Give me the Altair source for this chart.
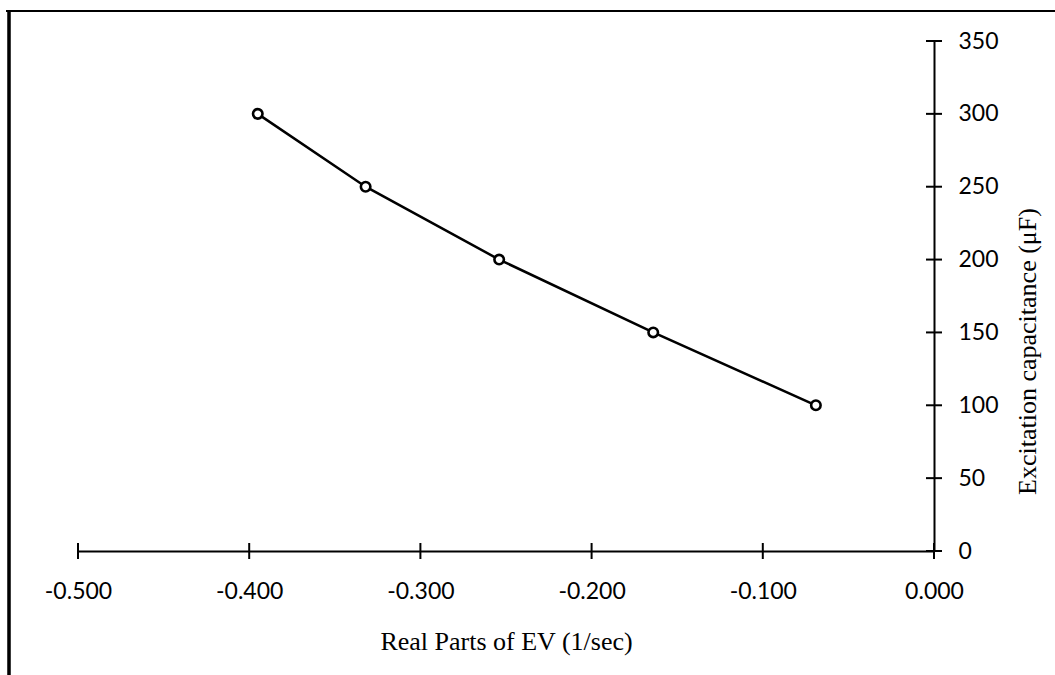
import altair as alt
import pandas as pd

# Real parts of the eigenvalue for each excitation capacitance
real_parts = [-0.395, -0.332, -0.254, -0.164, -0.069]
capacitance = [300, 250, 200, 150, 100]

x_ticks = [-0.5, -0.4, -0.3, -0.2, -0.1, 0.0]
y_ticks = [0, 50, 100, 150, 200, 250, 300, 350]

W, H = 856, 510

df = pd.DataFrame({"ev": real_parts, "cap": capacitance})
xt = pd.DataFrame({"v": x_ticks})
yt = pd.DataFrame({"v": y_ticks})

x_scale = alt.Scale(domain=[-0.5, 0.0], nice=False, zero=False)
y_scale = alt.Scale(domain=[0, 350], nice=False)

x_axis = alt.Axis(
    values=x_ticks, ticks=False, tickSize=0, grid=False, labelFlush=False,
    labelExpr="replace(format(datum.value, '.3f'), '\u2212', '-')",
    domainColor="black", domainWidth=2,
    labelFont="Lato", labelFontSize=23, labelColor="black", labelPadding=29,
    title="Real Parts of EV (1/sec)", titleFont="Liberation Serif",
    titleFontSize=26, titleFontWeight="normal", titleColor="black", titlePadding=25,
)
y_axis = alt.Axis(
    orient="right", values=y_ticks, ticks=False, tickSize=0, grid=False,
    labelFlush=False,
    domainColor="black", domainWidth=2,
    labelFont="Lato", labelFontSize=23, labelColor="black", labelPadding=24,
    title="Excitation capacitance (μF)", titleFont="Liberation Serif",
    titleFontSize=26, titleFontWeight="normal", titleColor="black",
    titleAngle=270, titleX=106, titleY=310,
)

base = alt.Chart(df)

line = base.mark_line(color="black", strokeWidth=2.5).encode(
    x=alt.X("ev:Q", scale=x_scale, axis=x_axis),
    y=alt.Y("cap:Q", scale=y_scale, axis=y_axis),
)
points = base.mark_point(
    shape="circle", size=90, filled=False, fill="white", fillOpacity=1,
    color="black", strokeWidth=2.6, opacity=1,
).encode(x=alt.X("ev:Q", scale=x_scale), y=alt.Y("cap:Q", scale=y_scale))

# Ticks crossing both axis lines
x_tick_marks = alt.Chart(xt).mark_tick(
    orient="vertical", size=16, thickness=2, color="black", opacity=1
).encode(x=alt.X("v:Q", scale=x_scale), y=alt.datum(0, scale=y_scale))
y_tick_marks = alt.Chart(yt).mark_tick(
    orient="horizontal", size=16, thickness=2, color="black", opacity=1
).encode(y=alt.Y("v:Q", scale=y_scale), x=alt.datum(0, scale=x_scale))

# Outer frame (left and top edges)
frame_left = alt.Chart(df).mark_rule(color="black", strokeWidth=2.5).encode(
    x=alt.value(-69), y=alt.value(-30), y2=alt.value(H + 140)
)
frame_top = alt.Chart(df).mark_rule(color="black", strokeWidth=2).encode(
    x=alt.value(-72), x2=alt.value(W + 130), y=alt.value(-30)
)

chart = (
    alt.layer(frame_left, frame_top, line, x_tick_marks, y_tick_marks, points)
    .properties(
        width=W, height=H,
        autosize=alt.AutoSizeParams(type="none"),
        padding={"left": 78, "top": 41, "right": 121, "bottom": 124},
        background="white",
    )
    .configure_view(stroke=None)
)

chart.save("out.html", embed_options={"renderer": "svg", "actions": False})
